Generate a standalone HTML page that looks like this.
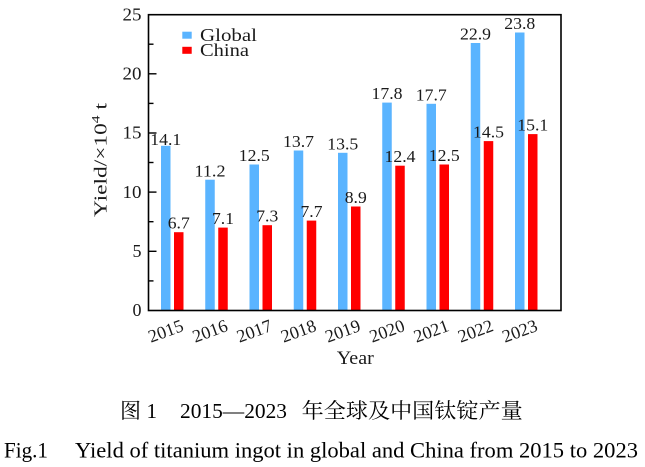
<!DOCTYPE html>
<html><head><meta charset="utf-8"><style>
html,body{margin:0;padding:0;background:#fff;}
svg{display:block;}
.s{font-family:"Liberation Serif","Noto Serif CJK SC",serif;fill:#1a1a1a;}
.c{font-family:"Liberation Serif","Noto Serif CJK SC",serif;fill:#000;}
</style></head><body>
<svg width="645" height="467" viewBox="0 0 645 467" xmlns="http://www.w3.org/2000/svg">
<rect width="645" height="467" fill="#fff"/>
<!-- bars -->
<g id="bars"></g>
<g fill="#5ab4ff">
<rect x="161" y="145.8" width="9.5" height="164.7"/>
<rect x="205.25" y="179.7" width="9.5" height="130.8"/>
<rect x="249.5" y="164.5" width="9.5" height="146"/>
<rect x="293.75" y="150.5" width="9.5" height="160"/>
<rect x="338" y="152.8" width="9.5" height="157.7"/>
<rect x="382.25" y="102.6" width="9.5" height="207.9"/>
<rect x="426.5" y="103.8" width="9.5" height="206.7"/>
<rect x="470.75" y="43.0" width="9.5" height="267.5"/>
<rect x="515" y="32.5" width="9.5" height="278"/>
</g>
<g fill="#ff0000">
<rect x="174" y="232.2" width="9.5" height="78.3"/>
<rect x="218.25" y="227.6" width="9.5" height="82.9"/>
<rect x="262.5" y="225.2" width="9.5" height="85.3"/>
<rect x="306.75" y="220.6" width="9.5" height="89.9"/>
<rect x="351" y="206.5" width="9.5" height="104"/>
<rect x="395.25" y="165.7" width="9.5" height="144.8"/>
<rect x="439.5" y="164.5" width="9.5" height="146"/>
<rect x="483.75" y="141.1" width="9.5" height="169.4"/>
<rect x="528" y="134.1" width="9.5" height="176.4"/>
</g>
<!-- value labels -->
<g class="s" font-size="17" text-anchor="middle">
<text x="165.75" y="145" textLength="31" lengthAdjust="spacingAndGlyphs">14.1</text>
<text x="210" y="176.5" textLength="31" lengthAdjust="spacingAndGlyphs">11.2</text>
<text x="254.25" y="161" textLength="31" lengthAdjust="spacingAndGlyphs">12.5</text>
<text x="298.5" y="147.2" textLength="31" lengthAdjust="spacingAndGlyphs">13.7</text>
<text x="342.75" y="149.3" textLength="31" lengthAdjust="spacingAndGlyphs">13.5</text>
<text x="387" y="99" textLength="31" lengthAdjust="spacingAndGlyphs">17.8</text>
<text x="431.25" y="100.3" textLength="31" lengthAdjust="spacingAndGlyphs">17.7</text>
<text x="475.5" y="39.5" textLength="31" lengthAdjust="spacingAndGlyphs">22.9</text>
<text x="519.75" y="29" textLength="31" lengthAdjust="spacingAndGlyphs">23.8</text>
<text x="178.75" y="228.7" textLength="22" lengthAdjust="spacingAndGlyphs">6.7</text>
<text x="223" y="224.1" textLength="22" lengthAdjust="spacingAndGlyphs">7.1</text>
<text x="267.25" y="221.7" textLength="22" lengthAdjust="spacingAndGlyphs">7.3</text>
<text x="311.5" y="217.1" textLength="22" lengthAdjust="spacingAndGlyphs">7.7</text>
<text x="355.75" y="203" textLength="22" lengthAdjust="spacingAndGlyphs">8.9</text>
<text x="400" y="162.2" textLength="31" lengthAdjust="spacingAndGlyphs">12.4</text>
<text x="444.25" y="161" textLength="31" lengthAdjust="spacingAndGlyphs">12.5</text>
<text x="488.5" y="137.6" textLength="31" lengthAdjust="spacingAndGlyphs">14.5</text>
<text x="532.75" y="130.6" textLength="31" lengthAdjust="spacingAndGlyphs">15.1</text>
</g>
<!-- axes box -->
<rect x="148.5" y="14.7" width="412.5" height="295.8" fill="none" stroke="#000" stroke-width="1.6"/>
<!-- y ticks -->
<g stroke="#000" stroke-width="1.4">
<line x1="148.5" y1="251.3" x2="156.5" y2="251.3"/>
<line x1="148.5" y1="192.1" x2="156.5" y2="192.1"/>
<line x1="148.5" y1="133.0" x2="156.5" y2="133.0"/>
<line x1="148.5" y1="73.8" x2="156.5" y2="73.8"/>
<line x1="148.5" y1="280.9" x2="153.5" y2="280.9"/>
<line x1="148.5" y1="221.7" x2="153.5" y2="221.7"/>
<line x1="148.5" y1="162.5" x2="153.5" y2="162.5"/>
<line x1="148.5" y1="103.4" x2="153.5" y2="103.4"/>
<line x1="148.5" y1="44.2" x2="153.5" y2="44.2"/>
</g>
<!-- y tick labels -->
<g class="s" font-size="18" text-anchor="end">
<text x="141.5" y="316.2">0</text>
<text x="141.5" y="257">5</text>
<text x="141.5" y="197.8" textLength="19" lengthAdjust="spacingAndGlyphs">10</text>
<text x="141.5" y="138.7" textLength="19" lengthAdjust="spacingAndGlyphs">15</text>
<text x="141.5" y="79.5" textLength="19" lengthAdjust="spacingAndGlyphs">20</text>
<text x="141.5" y="20.4" textLength="19" lengthAdjust="spacingAndGlyphs">25</text>
</g>
<!-- y label -->
<text class="s" font-size="18" text-anchor="middle" transform="translate(106.5,160) rotate(-90)" textLength="114" lengthAdjust="spacingAndGlyphs">Yield/×10<tspan font-size="12" dy="-7">4</tspan><tspan dy="7"> t</tspan></text>
<!-- x tick labels -->
<g class="s" font-size="18" text-anchor="middle">
<text transform="translate(165.75,331) rotate(-20)" y="6" textLength="36" lengthAdjust="spacingAndGlyphs">2015</text>
<text transform="translate(210,331) rotate(-20)" y="6" textLength="36" lengthAdjust="spacingAndGlyphs">2016</text>
<text transform="translate(254.25,331) rotate(-20)" y="6" textLength="36" lengthAdjust="spacingAndGlyphs">2017</text>
<text transform="translate(298.5,331) rotate(-20)" y="6" textLength="36" lengthAdjust="spacingAndGlyphs">2018</text>
<text transform="translate(342.75,331) rotate(-20)" y="6" textLength="36" lengthAdjust="spacingAndGlyphs">2019</text>
<text transform="translate(387,331) rotate(-20)" y="6" textLength="36" lengthAdjust="spacingAndGlyphs">2020</text>
<text transform="translate(431.25,331) rotate(-20)" y="6" textLength="36" lengthAdjust="spacingAndGlyphs">2021</text>
<text transform="translate(475.5,331) rotate(-20)" y="6" textLength="36" lengthAdjust="spacingAndGlyphs">2022</text>
<text transform="translate(519.75,331) rotate(-20)" y="6" textLength="36" lengthAdjust="spacingAndGlyphs">2023</text>
</g>
<text class="s" font-size="19" x="355.3" y="364" text-anchor="middle" textLength="37" lengthAdjust="spacingAndGlyphs">Year</text>
<!-- legend -->
<rect x="182.3" y="31.7" width="9.4" height="7" fill="#5ab4ff"/>
<rect x="182.3" y="46.8" width="9.4" height="7" fill="#ff0000"/>
<text class="s" font-size="18" x="200" y="40.8" textLength="57" lengthAdjust="spacingAndGlyphs">Global</text>
<text class="s" font-size="18" x="200" y="55.8" textLength="49" lengthAdjust="spacingAndGlyphs">China</text>
<!-- captions -->
<g class="c" font-size="21">
<text x="120" y="418">图</text>
<text x="146.5" y="418">1</text>
<text x="180" y="418" textLength="107" lengthAdjust="spacingAndGlyphs">2015—2023</text>
<text x="301.7" y="418" textLength="221" lengthAdjust="spacingAndGlyphs">年全球及中国钛锭产量</text>
</g>
<g class="c" font-size="22">
<text x="4" y="457.7" textLength="44" lengthAdjust="spacingAndGlyphs">Fig.1</text>
<text x="75" y="457.7" textLength="563" lengthAdjust="spacingAndGlyphs">Yield of titanium ingot in global and China from 2015 to 2023</text>
</g>
</svg>
</body></html>
